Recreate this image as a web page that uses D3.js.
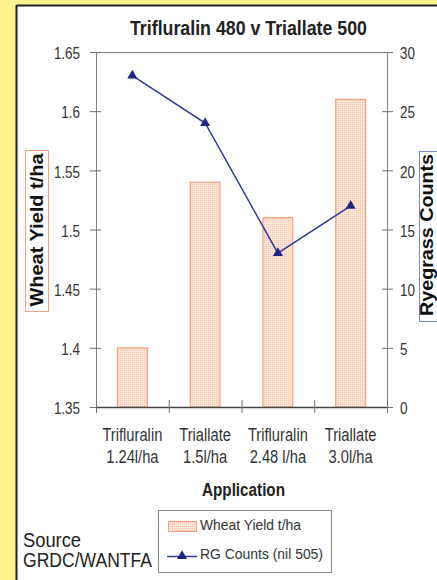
<!DOCTYPE html>
<html><head><meta charset="utf-8">
<script src="https://cdn.jsdelivr.net/npm/d3@7"></script>
<style>
html,body{margin:0;padding:0;background:#fff38e;}
svg{display:block;}
text{font-family:"Liberation Sans Narrow","Arial Narrow","Liberation Sans",Arial,sans-serif;}
</style></head><body>
<svg id="c" width="437" height="580"></svg>
<script>
const categories = [["Trifluralin","1.24l/ha"],["Triallate","1.5l/ha"],["Trifluralin","2.48 l/ha"],["Triallate","3.0l/ha"]];
const wheatYield = [1.40, 1.54, 1.51, 1.61];
const rgCounts = [28, 24, 13, 17];
const leftTicks = [1.35,1.4,1.45,1.5,1.55,1.6,1.65];
const rightTicks = [0,5,10,15,20,25,30];

const svg = d3.select("#c");
function squeeze(sel, f){ sel.each(function(){ const n=this; const w=n.getComputedTextLength(); n.setAttribute("textLength", (w*f).toFixed(1)); n.setAttribute("lengthAdjust","spacingAndGlyphs"); }); return sel; }
function fitW(sel, w){ sel.attr("textLength", w).attr("lengthAdjust","spacingAndGlyphs"); return sel; }

// panel
svg.append("rect").attr("x",0).attr("y",0).attr("width",437).attr("height",580).attr("fill","#fff38e");
svg.append("rect").attr("x",17).attr("y",6).attr("width",430).attr("height",590).attr("fill","#fff");
svg.append("line").attr("x1",16.5).attr("x2",437).attr("y1",5.5).attr("y2",5.5).attr("stroke","#222").attr("stroke-width",2);
svg.append("line").attr("x1",16.5).attr("x2",16.5).attr("y1",5).attr("y2",580).attr("stroke","#222").attr("stroke-width",2);

const defs = svg.append("defs");
const pat = defs.append("pattern").attr("id","dots").attr("width",2).attr("height",2).attr("patternUnits","userSpaceOnUse");
pat.append("rect").attr("width",2).attr("height",2).attr("fill","#fde4d8");
pat.append("rect").attr("width",1).attr("height",1).attr("fill","#f9c4ac");

const L=96, R=387, T=52, B=407;
const x = d3.scaleBand().domain(d3.range(categories.length)).range([L,R]).padding(0);
const yL = d3.scaleLinear().domain([1.35,1.65]).range([B,T]);
const yR = d3.scaleLinear().domain([0,30]).range([B,T]);

svg.append("line").attr("x1",L).attr("x2",R).attr("y1",T+0.5).attr("y2",T+0.5).attr("stroke","#808080");

// bars
const bw = x.bandwidth()*0.41;
svg.selectAll(".bar").data(wheatYield).enter().append("rect")
  .attr("x",(d,i)=>x(i)+x.bandwidth()/2-bw/2)
  .attr("y",d=>yL(d))
  .attr("width",bw).attr("height",d=>B-yL(d))
  .attr("fill","url(#dots)").attr("stroke","#f7a07e").attr("stroke-width",1.2);

// left axis
const gL = svg.append("g").attr("transform",`translate(${L},0)`)
  .call(d3.axisLeft(yL).tickValues(leftTicks).tickFormat(d=>String(+d.toFixed(2))).tickSizeInner(6).tickSizeOuter(0).tickPadding(10));
gL.selectAll(".tick line").attr("x2",5).attr("x1",-6);
const gR = svg.append("g").attr("transform",`translate(${R},0)`)
  .call(d3.axisRight(yR).tickValues(rightTicks).tickSizeInner(6).tickSizeOuter(0).tickPadding(7));
gR.selectAll(".tick line").attr("x1",-5).attr("x2",6);
[gL,gR].forEach(g=>{
  g.select(".domain").attr("stroke","#808080");
  g.selectAll(".tick line").attr("stroke","#707070");
  g.selectAll("text").attr("font-size",17).attr("fill","#333").attr("dy","0.4em").attr("font-family","Liberation Sans, Arial, sans-serif");
  squeeze(g.selectAll("text"),0.79);
});
// bottom axis
const xb = d3.scaleLinear().domain([0,categories.length]).range([L,R]);
const gB = svg.append("g").attr("transform",`translate(0,${B})`)
  .call(d3.axisBottom(xb).tickValues(d3.range(categories.length+1)).tickFormat("").tickSizeInner(6).tickSizeOuter(0));
gB.select(".domain").attr("stroke","#444").attr("stroke-width",1.3);
gB.selectAll(".tick line").attr("y1",-7).attr("y2",6).attr("stroke","#707070");

// category labels
categories.forEach((c,i)=>{
  const cx = x(i)+x.bandwidth()/2;
  c.forEach((s,j)=>{
    const t = svg.append("text").attr("x",cx).attr("y",441+22*j).attr("text-anchor","middle")
      .attr("font-size",17.5).attr("fill","#333").text(s);
    squeeze(t,0.84);
  });
});

// line
const line = d3.line().x((d,i)=>x(i)+x.bandwidth()/2).y(d=>yR(d));
svg.append("path").datum(rgCounts).attr("d",line).attr("fill","none").attr("stroke","#2e3a94").attr("stroke-width",1.5);
const tri = d3.symbol().type(d3.symbolTriangle).size(44);
svg.selectAll(".pt").data(rgCounts).enter().append("path")
  .attr("d",tri).attr("transform",(d,i)=>`translate(${x(i)+x.bandwidth()/2},${yR(d)})`).attr("fill","#1f2585");

// title
fitW(svg.append("text").attr("x",248.5).attr("y",35).attr("text-anchor","middle").attr("font-size",20).attr("font-weight","bold").attr("fill","#222").text("Trifluralin 480 v Triallate 500"),237);
// x title
fitW(svg.append("text").attr("x",243.5).attr("y",496).attr("text-anchor","middle").attr("font-size",18).attr("font-weight","bold").attr("fill","#222").text("Application"),83);

// left y title box
svg.append("rect").attr("x",25.5).attr("y",150.5).attr("width",23).attr("height",161).attr("fill","#fff").attr("stroke","#f7a07e");
fitW(svg.append("text").attr("transform","translate(42.5,230) rotate(-90)").attr("text-anchor","middle").attr("font-size",18.5).attr("font-weight","bold").attr("fill","#111").text("Wheat Yield t/ha"),153);
// right y title box
svg.append("rect").attr("x",419.5).attr("y",151.5).attr("width",24).attr("height",170).attr("fill","#fff").attr("stroke","#7b86c8");
fitW(svg.append("text").attr("transform","translate(432.5,235) rotate(-90)").attr("text-anchor","middle").attr("font-size",18).attr("font-weight","bold").attr("fill","#111").text("Ryegrass Counts"),162);

// legend
const lg = svg.append("g");
lg.append("rect").attr("x",158.5).attr("y",510.5).attr("width",173).attr("height",62).attr("fill","#fff").attr("stroke","#888");
lg.append("rect").attr("x",168.5).attr("y",521.5).attr("width",28).attr("height",10).attr("fill","url(#dots)").attr("stroke","#f7a07e");
fitW(lg.append("text").attr("x",200).attr("y",530).attr("font-size",15).attr("fill","#333").text("Wheat Yield t/ha"),101);
lg.append("line").attr("x1",167).attr("x2",197).attr("y1",556.5).attr("y2",556.5).attr("stroke","#2e3a94").attr("stroke-width",1.5);
lg.append("path").attr("d",tri).attr("transform","translate(182,556)").attr("fill","#1f2585");
fitW(lg.append("text").attr("x",200).attr("y",559).attr("font-size",15).attr("fill","#333").text("RG Counts (nil 505)"),123);

// source
fitW(svg.append("text").attr("x",23).attr("y",547).attr("font-size",19.5).attr("fill","#222").text("Source"),58);
fitW(svg.append("text").attr("x",23).attr("y",567).attr("font-size",19.5).attr("fill","#222").text("GRDC/WANTFA"),129);
</script></body></html>
